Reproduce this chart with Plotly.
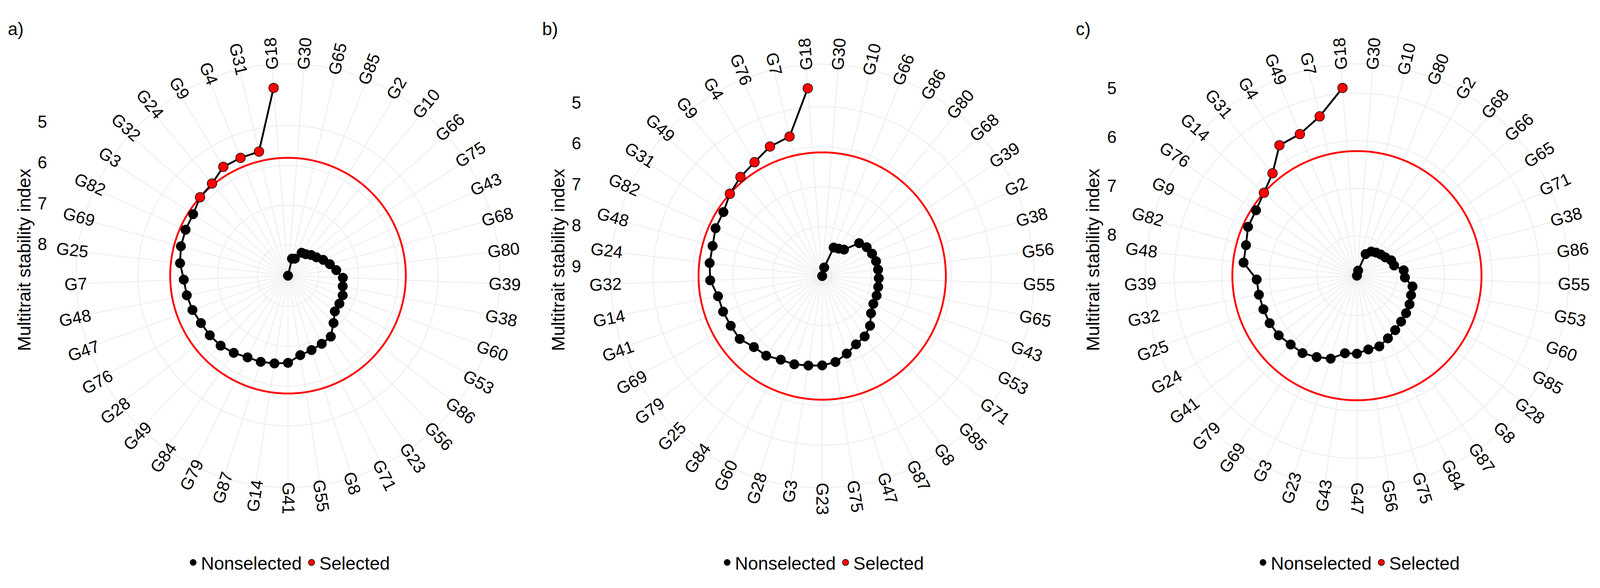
import numpy as np
import plotly.graph_objects as go

# reference geometry (px of the 4417 x 1505 picture)
W, H = 4417, 1505
# the page gets a canvas a bit narrower than the window, so the design is
# scaled to fit its width and centred vertically
WF, HF = 4185, 1489
U = WF / W
OY = (HF - H * U) / 2

# genotypes in clockwise order from 12 o'clock (MTSI decreasing, last one is the best)
geno_a = ["G30", "G65", "G85", "G2", "G10", "G66", "G75", "G43", "G68", "G80",
          "G39", "G38", "G60", "G53", "G86", "G56", "G23", "G71", "G8", "G55",
          "G41", "G14", "G87", "G79", "G84", "G49", "G28", "G76", "G47", "G48",
          "G7", "G25", "G69", "G82", "G3", "G32", "G24", "G9", "G4", "G31", "G18"]
mtsi_a = [8.77, 8.33, 8.31, 8.10, 8.07, 7.99, 7.92, 7.80, 7.68, 7.55,
          7.39, 7.37, 7.31, 7.30, 7.29, 7.12, 6.90, 6.86, 6.81, 6.75,
          6.58, 6.54, 6.50, 6.48, 6.40, 6.33, 6.30, 6.28, 6.22, 6.18,
          6.15, 6.04, 5.98, 5.95, 5.93, 5.81, 5.77, 5.59, 5.58, 5.57, 4.04]

geno_b = ["G30", "G10", "G66", "G86", "G80", "G68", "G39", "G2", "G38", "G56",
          "G55", "G65", "G43", "G53", "G71", "G85", "G8", "G87", "G47", "G75",
          "G23", "G3", "G28", "G60", "G84", "G25", "G79", "G69", "G41", "G14",
          "G32", "G24", "G48", "G82", "G31", "G49", "G9", "G4", "G76", "G7", "G18"]
mtsi_b = [9.24, 9.02, 8.47, 8.44, 8.38, 8.00, 7.91, 7.87, 7.84, 7.83,
          7.82, 7.81, 7.79, 7.78, 7.70, 7.51, 7.39, 7.33, 7.20, 7.06,
          7.00, 6.97, 6.92, 6.90, 6.80, 6.77, 6.64, 6.63, 6.60, 6.58,
          6.43, 6.40, 6.39, 6.31, 6.29, 6.14, 6.02, 5.92, 5.74, 5.65, 4.52]

geno_c = ["G30", "G10", "G80", "G2", "G68", "G66", "G65", "G71", "G38", "G86",
          "G55", "G53", "G60", "G85", "G28", "G8", "G87", "G84", "G75", "G56",
          "G47", "G43", "G23", "G3", "G69", "G79", "G41", "G24", "G25", "G32",
          "G39", "G48", "G82", "G9", "G76", "G14", "G31", "G4", "G49", "G7", "G18"]
mtsi_c = [8.84, 8.73, 8.35, 8.25, 8.21, 8.17, 8.13, 8.05, 8.03, 7.85,
          7.83, 7.65, 7.63, 7.58, 7.54, 7.50, 7.44, 7.37, 7.28, 7.27,
          7.20, 7.19, 7.01, 6.93, 6.85, 6.83, 6.77, 6.75, 6.75, 6.74,
          6.73, 6.44, 6.42, 6.33, 6.31, 6.22, 6.05, 5.65, 5.63, 5.40, 4.88]

panel_tags = ["a)", "b)", "c)"]
sel_intensity = 15  # percent selected

FONT = "Liberation Sans, Arial, sans-serif"
GRID = "#EBEBEB"
RED = "#FF0000"
RP = 587          # outer radius of the polar area
LAB_R = 558       # radius where the genotype labels start
FS = 46           # label size

# centre of each panel and other anchors (reference px)
centres = [(789.5, 703), (2270, 704), (3752, 703)]
tick_right = [123, 1603, 3087]
title_x = [58, 1538, 3020]
tag_x = [11, 1492, 2971]
legend_x = [505, 1985, 3470]


def fx(x):
    return x * U / WF


def fy(y):
    return 1 - (OY + y * U) / HF


fig = go.Figure()
annots = []
layout_extra = {}

panels = [(geno_a, mtsi_a), (geno_b, mtsi_b), (geno_c, mtsi_c)]
for k, (geno, mtsi) in enumerate(panels):
    n = len(geno)
    sub = "polar" if k == 0 else "polar%d" % (k + 1)
    leg = "legend" if k == 0 else "legend%d" % (k + 1)
    cx, cy = centres[k]
    vmax, vmin = max(mtsi), min(mtsi)
    rng = [vmax, vmax - 1.125 * (vmax - vmin)]
    breaks = list(range(int(np.ceil(vmin)), int(np.floor(vmax)) + 1))
    theta = [(i + 0.5) * 360.0 / n for i in range(n)]

    nsel = int(round(n * sel_intensity / 100.0))
    order = np.argsort(mtsi)
    sel = np.zeros(n, dtype=bool)
    sel[order[:nsel]] = True
    cut = max(np.array(mtsi)[sel])

    # cut-off circle
    fig.add_trace(go.Scatterpolar(r=[cut] * 361, theta=np.linspace(0, 360, 361),
                                  mode="lines", line=dict(color=RED, width=5 * U),
                                  subplot=sub, showlegend=False, hoverinfo="skip"))
    # path
    fig.add_trace(go.Scatterpolar(r=mtsi, theta=theta, mode="lines",
                                  line=dict(color="black", width=5 * U),
                                  subplot=sub, showlegend=False, hoverinfo="skip"))
    # points
    r_ns = [m for m, s in zip(mtsi, sel) if not s]
    t_ns = [t for t, s in zip(theta, sel) if not s]
    r_s = [m for m, s in zip(mtsi, sel) if s]
    t_s = [t for t, s in zip(theta, sel) if s]
    fig.add_trace(go.Scatterpolar(r=r_ns, theta=t_ns, mode="markers", name="Nonselected",
                                  marker=dict(color="black", size=26 * U,
                                              line=dict(color="black", width=1)),
                                  subplot=sub, legend=leg))
    fig.add_trace(go.Scatterpolar(r=r_s, theta=t_s, mode="markers", name="Selected",
                                  marker=dict(color=RED, size=26 * U,
                                              line=dict(color="black", width=1.5)),
                                  subplot=sub, legend=leg))

    layout_extra[sub] = dict(
        domain=dict(x=[fx(cx - RP), fx(cx + RP)], y=[fy(cy + RP), fy(cy - RP)]),
        bgcolor="white",
        radialaxis=dict(range=rng, tickvals=breaks, showticklabels=False, ticks="",
                        showline=False, gridcolor=GRID, gridwidth=2.2 * U),
        angularaxis=dict(rotation=90, direction="clockwise", tickvals=theta,
                         showticklabels=False, ticks="", showline=True,
                         linecolor=GRID, linewidth=2.2 * U, gridcolor=GRID,
                         gridwidth=2.2 * U),
    )

    # radial tick labels on a plain y axis aligned with the polar radius
    xa = "xaxis" if k == 0 else "xaxis%d" % (k + 1)
    ya = "yaxis" if k == 0 else "yaxis%d" % (k + 1)
    xr = "x" if k == 0 else "x%d" % (k + 1)
    yr = "y" if k == 0 else "y%d" % (k + 1)
    p = fx(tick_right[k])
    layout_extra[xa] = dict(domain=[p, p + 0.0005], visible=False, range=[0, 1])
    layout_extra[ya] = dict(domain=[fy(cy), fy(cy - RP)], range=rng,
                            anchor=xr, tickvals=breaks, ticks="", showgrid=False,
                            zeroline=False, showline=False,
                            tickfont=dict(size=FS * U, color="black", family=FONT))
    fig.add_trace(go.Scatter(x=[], y=[], xaxis=xr, yaxis=yr, showlegend=False,
                             hoverinfo="skip"))

    # genotype labels, rotated along the radius
    for g, t in zip(geno, theta):
        w = FS * (0.778 + 0.556 * (len(g) - 1))
        rc = LAB_R + w / 2
        a = np.radians(t)
        px = cx + rc * np.sin(a)
        py = cy - rc * np.cos(a)
        outward = not (180 < t < 350)
        ang = t - 90 if outward else t - 270
        ang = ((ang + 180) % 360) - 180
        annots.append(dict(x=fx(px), y=fy(py), xref="paper", yref="paper",
                           text=g, showarrow=False, textangle=ang,
                           xanchor="center", yanchor="middle",
                           font=dict(size=FS * U, color="black", family=FONT)))

    annots.append(dict(x=fx(title_x[k]), y=fy(660), xref="paper", yref="paper",
                       text="Multitrait stability index", showarrow=False, textangle=-90,
                       xanchor="center", yanchor="middle",
                       font=dict(size=49 * U, color="black", family=FONT)))
    annots.append(dict(x=fx(tag_x[k]), y=fy(8), xref="paper", yref="paper",
                       text=panel_tags[k], showarrow=False, xanchor="left", yanchor="top",
                       font=dict(size=48 * U, color="black", family=FONT)))

    layout_extra[leg] = dict(orientation="h", x=fx(legend_x[k]), y=fy(1478),
                             xanchor="left", yanchor="middle", bgcolor="rgba(0,0,0,0)",
                             font=dict(size=49 * U, color="black", family=FONT),
                             itemsizing="trace")

# size is left to the browser window (autosize)
fig.update_layout(margin=dict(l=0, r=0, t=0, b=0),
                  paper_bgcolor="white", plot_bgcolor="white",
                  font=dict(family=FONT, color="black"),
                  annotations=annots, showlegend=True, **layout_extra)

fig.write_html("out.html")
